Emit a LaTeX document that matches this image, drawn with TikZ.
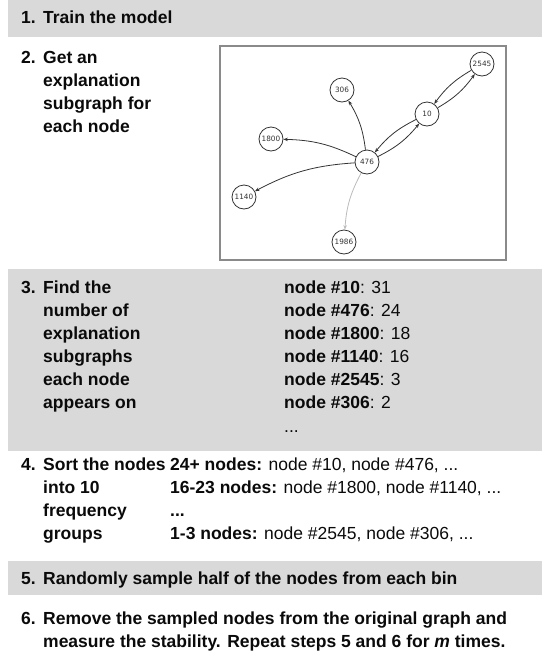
\documentclass[tikz,border=0pt]{standalone}
\usepackage{fontspec}
\setmainfont{Liberation Sans}
\newfontfamily\graphfont{DejaVu Sans}
\usetikzlibrary{arrows.meta}
\definecolor{band}{HTML}{D9D9D9}
\definecolor{ink}{HTML}{0A0A0A}
\definecolor{edgeink}{HTML}{333333}
\definecolor{frameink}{HTML}{8A8A8A}
\definecolor{faint}{HTML}{BBBBBB}
\begin{document}
\begin{tikzpicture}[x=1pt,y=-1pt,
  txt/.style={anchor=base west, inner sep=0pt, font=\fontsize{17.5}{21}\selectfont, text=ink},
  gnode/.style={circle, draw=edgeink, line width=0.8pt, minimum size=24pt, inner sep=0pt,
    font=\graphfont\fontsize{7.3}{8}\selectfont, text=edgeink, fill=white},
  gedge/.style={-{Stealth[length=4.5pt,width=3.5pt]}, draw=edgeink, line width=0.8pt, bend right=12},
]
\useasboundingbox (0,0) rectangle (542,654);

% shaded bands for steps 1, 3 and 5
\fill[band] (8,0) rectangle (542,37);
\fill[band] (8,269) rectangle (542,451);
\fill[band] (8,561) rectangle (542,595);

% step 1
\node[txt] (n1) at (21,23) {\bfseries 1.};
\node[txt] (t1) at (43,23) {\bfseries Train the model};

% step 2
\node[txt] (n2) at (21,63) {\bfseries 2.};
\node[txt] (t2a) at (43,63) {\bfseries Get an};
\node[txt] (t2b) at (43,86) {\bfseries explanation};
\node[txt] (t2c) at (43,109) {\bfseries subgraph for};
\node[txt] (t2d) at (43,132) {\bfseries each node};

% explanation subgraph
\node[draw=frameink, line width=1.5pt, minimum width=286pt, minimum height=214pt, inner sep=0pt] (frame) at (363,153) {};
\node[gnode] (v2545) at (482,64) {2545};
\node[gnode] (v306) at (342,90) {306};
\node[gnode] (v10) at (427,114) {10};
\node[gnode] (v1800) at (271,139) {1800};
\node[gnode] (v476) at (367,162) {476};
\node[gnode] (v1140) at (244,197) {1140};
\node[gnode] (v1986) at (344,242) {1986};
\draw[gedge] (v476) to (v306);
\draw[gedge] (v476) to (v1800);
\draw[gedge] (v476) to (v1140);
\draw[gedge, draw=faint] (v476) to (v1986);
\draw[gedge] (v476) to (v10);
\draw[gedge] (v10) to (v476);
\draw[gedge] (v10) to (v2545);
\draw[gedge] (v2545) to (v10);

% step 3
\node[txt] (n3) at (21,293) {\bfseries 3.};
\node[txt] (t3a) at (43,293) {\bfseries Find the};
\node[txt] (t3b) at (43,316) {\bfseries number of};
\node[txt] (t3c) at (43,339) {\bfseries explanation};
\node[txt] (t3d) at (43,362) {\bfseries subgraphs};
\node[txt] (t3e) at (43,385) {\bfseries each node};
\node[txt] (t3f) at (43,408) {\bfseries appears on};
\node[txt] (c3a) at (284,293) {\textbf{node \#10}: 31};
\node[txt] (c3b) at (284,316) {\textbf{node \#476}: 24};
\node[txt] (c3c) at (284,339) {\textbf{node \#1800}: 18};
\node[txt] (c3d) at (284,362) {\textbf{node \#1140}: 16};
\node[txt] (c3e) at (284,385) {\textbf{node \#2545}: 3};
\node[txt] (c3f) at (284,408) {\textbf{node \#306}: 2};
\node[txt] (c3g) at (284,432) {...};

% step 4
\node[txt] (n4) at (21,470) {\bfseries 4.};
\node[txt] (t4a) at (43,470) {\bfseries Sort the nodes};
\node[txt] (t4b) at (43,493) {\bfseries into 10};
\node[txt] (t4c) at (43,516) {\bfseries frequency};
\node[txt] (t4d) at (43,539) {\bfseries groups};
\node[txt] (c4a) at (170,470) {\textbf{24+ nodes:} node \#10, node \#476, ...};
\node[txt] (c4b) at (170,493) {\textbf{16-23 nodes:} node \#1800, node \#1140, ...};
\node[txt] (c4c) at (170,516) {\textbf{...}};
\node[txt] (c4d) at (170,539) {\textbf{1-3 nodes:} node \#2545, node \#306, ...};

% step 5
\node[txt] (n5) at (21,584) {\bfseries 5.};
\node[txt] (t5) at (43,584) {\bfseries Randomly sample half of the nodes from each bin};

% step 6
\node[txt] (n6) at (21,624) {\bfseries 6.};
\node[txt] (t6a) at (43,624) {\bfseries Remove the sampled nodes from the original graph and};
\node[txt] (t6b) at (43,647) {\bfseries measure the stability. Repeat steps 5 and 6 for \textit{m} times.};
\end{tikzpicture}
\end{document}
